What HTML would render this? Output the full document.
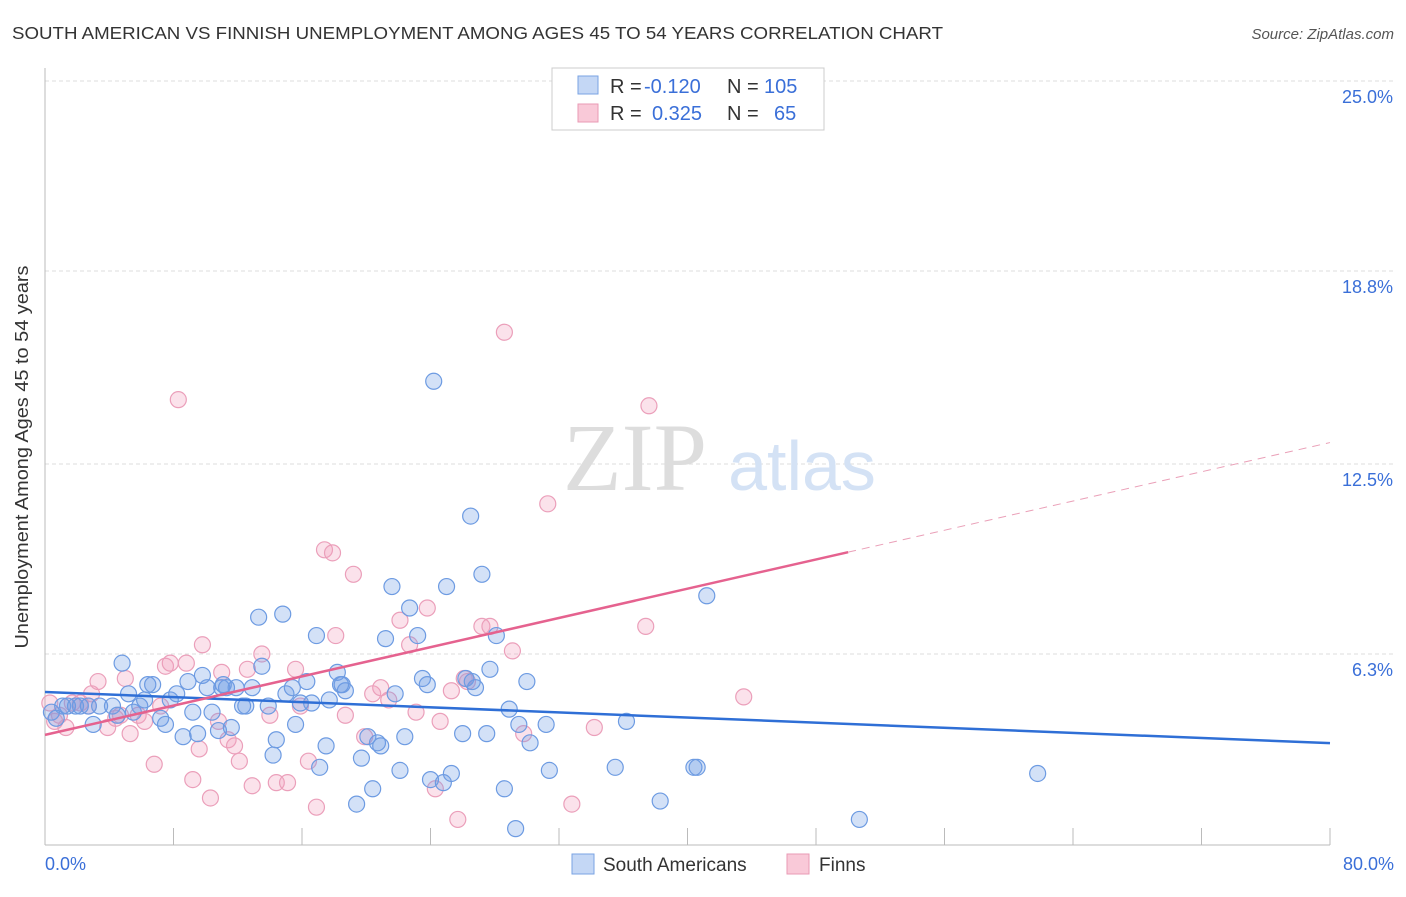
<!DOCTYPE html>
<html><head><meta charset="utf-8"><style>
body{margin:0;background:#fff;font-family:"Liberation Sans",sans-serif;}
svg text{font-family:"Liberation Sans",sans-serif;}
</style></head><body>
<svg width="1406" height="892" viewBox="0 0 1406 892">
<text x="12" y="39" font-size="17.5" fill="#333" textLength="931" lengthAdjust="spacingAndGlyphs">SOUTH AMERICAN VS FINNISH UNEMPLOYMENT AMONG AGES 45 TO 54 YEARS CORRELATION CHART</text>
<text x="1394" y="39" font-size="15" fill="#555" font-style="italic" text-anchor="end">Source: ZipAtlas.com</text>
<g id="grid"></g>
<text x="635" y="490" font-size="96" fill="#ddd" font-family="Liberation Serif" text-anchor="middle" style="font-family:'Liberation Serif',serif">ZIP</text>
<text x="802" y="490" font-size="70" fill="#d4e2f5" text-anchor="middle">atlas</text>
<g id="pts"></g>
<g id="trend"></g>
<text x="28" y="457" font-size="18" fill="#333" text-anchor="middle" textLength="383" lengthAdjust="spacingAndGlyphs" transform="rotate(-90 28 457)">Unemployment Among Ages 45 to 54 years</text>
<text x="45" y="870" font-size="18" fill="#3a6fd8">0.0%</text>
<text x="1394" y="870" font-size="18" fill="#3a6fd8" text-anchor="end">80.0%</text>
<g>
<rect x="552" y="68" width="272" height="62" fill="#fff" stroke="#ccc"/>
<rect x="578" y="76" width="20" height="18" fill="#c4d7f5" stroke="#7aa3e3"/>
<rect x="578" y="104" width="20" height="18" fill="#f9c9d8" stroke="#e99ab4"/>
<text font-size="20" fill="#333" y="93"><tspan x="610">R =</tspan><tspan x="644" fill="#3a6fd8">-0.120</tspan><tspan x="727">N =</tspan><tspan x="764" fill="#3a6fd8">105</tspan></text>
<text font-size="20" fill="#333" y="120"><tspan x="610">R =</tspan><tspan x="652" fill="#3a6fd8">0.325</tspan><tspan x="727">N =</tspan><tspan x="774" fill="#3a6fd8">65</tspan></text>
</g>
<g>
<rect x="572" y="854" width="22" height="20" fill="#c4d7f5" stroke="#7aa3e3"/>
<text x="603" y="871" font-size="19" fill="#333">South Americans</text>
<rect x="787" y="854" width="22" height="20" fill="#f9c9d8" stroke="#e99ab4"/>
<text x="819" y="871" font-size="19" fill="#333">Finns</text>
</g>
</svg>
<script>
const yTicks=[25.0,18.8,12.5,6.3];
const xTickCount=10;
const blueX=[0.4,0.7,1.1,1.4,1.9,2.2,2.7,3.0,3.4,4.2,4.5,4.8,5.2,5.5,5.9,6.2,6.4,6.7,7.2,7.5,7.8,8.2,8.6,8.9,9.2,9.5,9.8,10.1,10.4,10.8,11.0,11.3,11.6,11.9,12.3,12.5,12.9,13.3,13.5,13.9,14.2,14.4,14.8,15.0,15.4,15.6,15.9,16.3,16.6,16.9,17.1,17.5,17.7,18.2,18.5,18.7,19.4,19.7,20.1,20.4,20.7,20.9,21.2,21.6,21.8,22.1,22.4,22.7,23.2,23.5,23.8,24.0,24.2,24.8,25.0,25.3,26.0,26.2,26.5,26.8,27.2,27.5,27.7,28.1,28.6,28.9,29.3,29.5,30.0,30.2,31.2,31.4,35.5,36.2,38.3,40.4,40.6,41.2,50.7,61.8,26.6,18.4,11.1];
const blueY=[4.4,4.2,4.6,4.6,4.6,4.6,4.6,4.0,4.6,4.6,4.3,6.0,5.0,4.4,4.6,4.8,5.3,5.3,4.2,4.0,4.8,5.0,3.6,5.4,4.4,3.7,5.6,5.2,4.4,3.8,5.2,5.2,3.9,5.2,4.6,4.6,5.2,7.5,5.9,4.6,3.0,3.5,7.6,5.0,5.2,4.0,4.7,5.4,4.7,6.9,2.6,3.3,4.8,5.7,5.3,5.1,1.4,2.9,3.6,1.9,3.4,3.3,6.8,8.5,5.0,2.5,3.6,7.8,6.9,5.5,5.3,2.2,15.2,2.1,8.5,2.4,3.7,5.5,10.8,5.2,8.9,3.7,5.8,6.9,1.9,4.5,0.6,4.0,5.4,3.4,4.0,2.5,2.6,4.1,1.5,2.6,2.6,8.2,0.9,2.4,5.4,5.3,5.3];
const pinkX=[0.3,0.6,0.9,1.3,1.7,2.2,2.7,2.9,3.3,3.9,4.4,4.7,5.0,5.3,5.8,6.2,6.8,7.2,7.5,7.8,8.3,8.8,9.2,9.6,9.8,10.3,10.8,11.0,11.4,11.8,12.1,12.6,12.9,13.5,14.0,14.4,15.1,15.6,15.9,16.4,16.9,17.4,17.9,18.1,18.7,19.2,19.9,20.4,20.9,21.4,22.1,22.7,23.1,23.8,24.3,24.6,25.3,25.7,26.1,26.3,27.2,27.7,28.6,29.1,29.8,31.3,32.8,34.2,37.4,37.6,43.5];
const pinkY=[4.7,4.1,4.3,3.9,4.7,4.7,4.6,5.0,5.4,3.9,4.2,4.3,5.5,3.7,4.3,4.1,2.7,4.6,5.9,6.0,14.6,6.0,2.2,3.2,6.6,1.6,4.1,5.7,3.5,3.3,2.8,5.8,2.0,6.3,4.3,2.1,2.1,5.8,4.6,2.8,1.3,9.7,9.6,6.9,4.3,8.9,3.6,5.0,5.2,4.8,7.4,6.6,4.4,7.8,1.9,4.1,5.1,0.9,5.5,5.4,7.2,7.2,16.8,6.4,3.7,11.2,1.4,3.9,7.2,14.4,4.9];
const blueTrend=[5.06,3.39];
const pinkTrend=[3.66,13.2];
const NS='http://www.w3.org/2000/svg';
const X0=45,X1=1330,Y0=847,PY=30.64;
function sx(v){return X0+(v/80)*(X1-X0);}
function sy(v){return Y0-v*PY;}
function mk(tag,attrs,parent){const e=document.createElementNS(NS,tag);for(const k in attrs)e.setAttribute(k,attrs[k]);parent.appendChild(e);return e;}
const grid=document.getElementById('grid');
yTicks.forEach(t=>{
 const l=mk('line',{x1:45,x2:1394,y1:sy(t),y2:sy(t),stroke:'#ddd','stroke-dasharray':'4,3'},grid);
 
 
 const tx=mk('text',{x:1393,y:sy(t)+22,'font-size':18,fill:'#3a6fd8','text-anchor':'end'},grid);
 tx.textContent=t.toFixed(1)+'%';
 
 
});
const ax=mk('line',{x1:45,x2:1330,y1:845,y2:845,stroke:'#bbb'},grid);


const ay=mk('line',{x1:45,x2:45,y1:68,y2:845,stroke:'#bbb'},grid);


for(let i=0;i<=xTickCount;i++){
 const t=mk('line',{x1:sx(i*8),x2:sx(i*8),y1:828,y2:845,stroke:'#bbb'},grid);
 
 
}
const pts=document.getElementById('pts');
pinkX.forEach((x,i)=>{
 const c=mk('circle',{cx:sx(x),cy:sy(pinkY[i]),r:8,fill:'rgba(243,160,190,0.3)',stroke:'#eb9fba','stroke-width':1.2},pts);
 
 
});
blueX.forEach((x,i)=>{
 const c=mk('circle',{cx:sx(x),cy:sy(blueY[i]),r:8,fill:'rgba(110,155,230,0.3)',stroke:'#6d9be2','stroke-width':1.2},pts);
 
 
});
const tr=document.getElementById('trend');
const bl=mk('line',{x1:sx(0),y1:sy(blueTrend[0]),x2:sx(80),y2:sy(blueTrend[1]),stroke:'#2f6fd6','stroke-width':2.5},tr);


const pm=pinkTrend[0]+(pinkTrend[1]-pinkTrend[0])*50/80;
const pl=mk('line',{x1:sx(0),y1:sy(pinkTrend[0]),x2:sx(50),y2:sy(pm),stroke:'#e5628f','stroke-width':2.5},tr);


const pd=mk('line',{x1:sx(50),y1:sy(pm),x2:sx(80),y2:sy(pinkTrend[1]),stroke:'#eaa0b8','stroke-width':1,'stroke-dasharray':'8,6'},tr);


</script>
</body></html>
